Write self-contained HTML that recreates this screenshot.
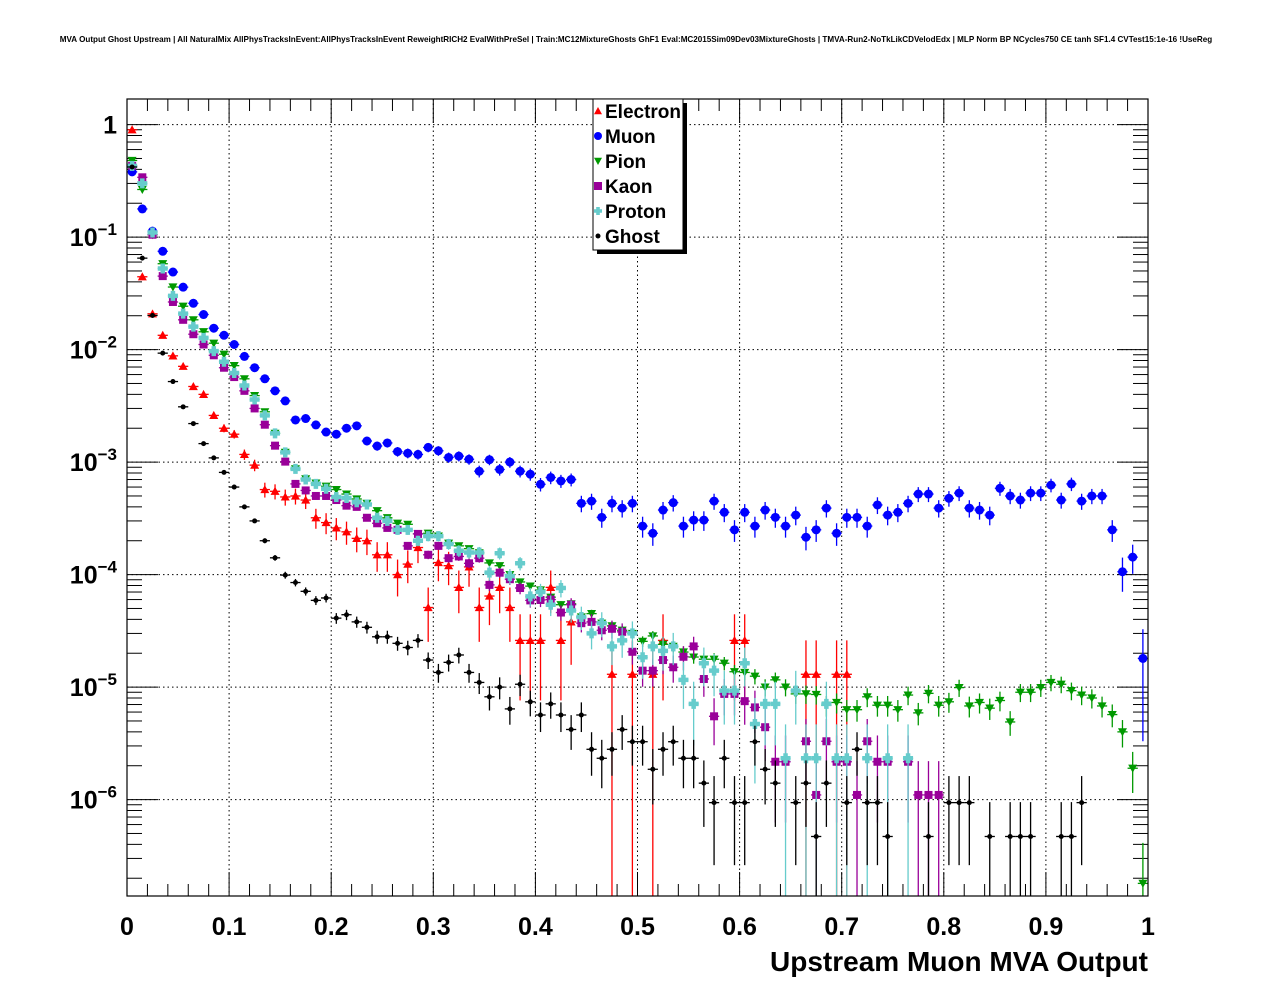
<!DOCTYPE html>
<html><head><meta charset="utf-8"><style>
html,body{margin:0;padding:0;background:#fff;}
svg{display:block;font-family:"Liberation Sans",Arial,sans-serif;}
</style></head><body>
<svg id="chart" width="1276" height="996" viewBox="0 0 1276 996" xmlns="http://www.w3.org/2000/svg">
<rect x="0" y="0" width="1276" height="996" fill="#fff"/>
<text x="636" y="42" font-size="8.1" font-weight="bold" text-anchor="middle">MVA Output Ghost Upstream | All NaturalMix AllPhysTracksInEvent:AllPhysTracksInEvent ReweightRICH2 EvalWithPreSel | Train:MC12MixtureGhosts GhF1 Eval:MC2015Sim09Dev03MixtureGhosts | TMVA-Run2-NoTkLikCDVelodEdx | MLP Norm BP NCycles750 CE tanh SF1.4 CVTest15:1e-16 !UseReg</text>
<g id="grid"></g>
<g id="axes"></g>
<defs><clipPath id="clip"><rect x="127" y="99" width="1021" height="797"/></clipPath></defs>
<g id="series" clip-path="url(#clip)"></g>
<rect x="127" y="99" width="1021" height="797" fill="none" stroke="#000" stroke-width="1.2"/>
<g id="legend"></g>
<text x="1148" y="971" font-size="28" font-weight="bold" text-anchor="end">Upstream Muon MVA Output</text>
</svg>
<script>
const categories = ["Electron","Muon","Pion","Kaon","Proton","Ghost"];
const xTickLabels = ["0","0.1","0.2","0.3","0.4","0.5","0.6","0.7","0.8","0.9","1"];
const yTickExponents = [0,-1,-2,-3,-4,-5,-6];
const N = null;
const electron = [0.9,0.0444,0.0208,0.0134,0.0088,0.0071,0.0047,0.004,0.0026,0.002,
0.00177,0.00117,0.00094,0.00057,0.00055,0.00049,0.0005,0.00046,0.00032,0.00029,
0.00026,0.00024,0.00021,0.0002,0.00015,0.00015,1.0e-4,1.24e-4,1.74e-4,5.1e-5,
1.28e-4,1.2e-4,7.7e-5,1.17e-4,5.1e-5,6.45e-5,7.7e-5,5.1e-5,2.6e-5,2.6e-5,
2.6e-5,7.7e-5,2.6e-5,3.8e-5,N,N,N,1.3e-5,N,1.3e-5,
N,1.3e-5,2.6e-5,N,N,N,N,N,N,2.6e-5,
2.6e-5,N,N,N,N,N,1.3e-5,1.3e-5,N,1.3e-5,
1.3e-5,N,N,N,N,N,N,N,N,N,
N,N,N,N,N,N,N,N,N,N,
N,N,N,N,N,N,N,N,N,N];
const muon = [0.38,0.178,0.113,0.0748,0.0489,0.0359,0.0258,0.0205,0.0155,0.0134,
0.0111,0.0087,0.0069,0.0055,0.0043,0.0035,0.00237,0.00244,0.00214,0.00185,
0.00177,0.002,0.0021,0.00154,0.00139,0.00148,0.00124,0.0012,0.00117,0.00135,
0.00126,0.0011,0.00113,0.00106,0.00083,0.00105,0.00086,0.001,0.00083,0.00078,
0.000635,0.00073,0.00068,0.0007,0.00043,0.00045,0.000323,0.00043,0.00039,0.00043,
0.00027,0.000233,0.000375,0.000436,0.00027,0.000305,0.000305,0.00045,0.000358,0.00025,
0.000358,0.00027,0.000375,0.000323,0.00027,0.000338,0.000215,0.00025,0.00039,0.000233,
0.000323,0.000323,0.00027,0.000416,0.000338,0.000358,0.00043,0.00052,0.00052,0.00039,
0.000477,0.00053,0.00039,0.000375,0.000338,0.000585,0.0005,0.00046,0.00053,0.00053,
0.000625,0.00046,0.00064,0.00045,0.0005,0.0005,0.00025,0.000106,0.000143,1.8e-5];
const pion = [0.48,0.265,0.105,0.058,0.036,0.0243,0.0184,0.0144,0.0114,0.0091,
0.0072,0.0055,0.0039,0.0028,0.0018,0.00122,0.00087,0.00071,0.00065,0.00061,
0.00057,0.00052,0.00047,0.00043,0.00037,0.00032,0.000286,0.00028,0.00023,0.000233,
0.00022,0.00019,0.00018,0.00017,0.000156,0.000127,0.00012,0.0001,8.6e-5,7.9e-5,
7.3e-5,6.3e-5,5.4e-5,5.5e-5,4.2e-5,4.5e-5,3.7e-5,3.5e-5,3.2e-5,3.0e-5,
2.55e-5,2.85e-5,2.4e-5,2.3e-5,2.05e-5,1.85e-5,1.77e-5,1.77e-5,1.63e-5,1.37e-5,
1.35e-5,1.25e-5,1.0e-5,1.16e-5,1.0e-5,8.7e-6,8.7e-6,8.6e-6,6.9e-6,7.3e-6,
6.3e-6,6.3e-6,8.2e-6,6.9e-6,6.9e-6,6.3e-6,8.5e-6,5.9e-6,8.8e-6,6.9e-6,
7.4e-6,9.9e-6,6.8e-6,7.3e-6,6.5e-6,7.6e-6,4.9e-6,9.0e-6,9.0e-6,9.9e-6,
1.1e-5,1.06e-5,9.3e-6,8.5e-6,8.0e-6,6.8e-6,5.7e-6,4.0e-6,1.9e-6,1.8e-7];
const kaon = [0.43,0.34,0.105,0.045,0.0265,0.0184,0.0137,0.0111,0.0089,0.0069,
0.0057,0.0043,0.003,0.00215,0.0014,0.00101,0.00064,0.00056,0.0005,0.0005,
0.00046,0.00041,0.0004,0.00032,0.000286,0.00026,0.00025,0.00018,0.00023,0.00015,
0.00018,0.00014,0.000145,0.000126,0.00014,8.1e-5,0.000104,9.1e-5,7.6e-5,5.9e-5,
5.95e-5,6.0e-5,4.6e-5,5.4e-5,3.7e-5,3.8e-5,3.2e-5,3.3e-5,3.1e-5,2.06e-5,
1.4e-5,1.4e-5,1.74e-5,1.5e-5,1.86e-5,2.3e-5,1.18e-5,5.5e-6,8.7e-6,8.7e-6,
7.5e-6,6.6e-6,4.4e-6,2.17e-6,2.17e-6,N,3.3e-6,1.1e-6,3.3e-6,2.17e-6,
2.17e-6,1.1e-6,3.3e-6,2.17e-6,2.17e-6,N,2.17e-6,1.1e-6,1.1e-6,1.1e-6,
N,N,N,N,N,N,N,N,N,N,
N,N,N,N,N,N,N,N,N,N];
const proton = [0.43,0.30,0.11,0.0526,0.030,0.0209,0.016,0.0127,0.0097,0.0078,
0.0062,0.0048,0.0036,0.0026,0.0018,0.00122,0.00087,0.0007,0.00064,0.00058,
0.00049,0.00048,0.00044,0.00042,0.00032,0.0003,0.00025,0.00025,0.0002,0.00022,
0.00022,0.000187,0.000163,0.000157,0.000157,0.000104,0.000155,9.7e-5,0.000126,6.4e-5,
7.0e-5,5.4e-5,7.6e-5,4.8e-5,4.2e-5,3.0e-5,3.7e-5,2.3e-5,2.6e-5,3.0e-5,
1.84e-5,2.3e-5,2.1e-5,2.3e-5,1.16e-5,7.1e-6,1.63e-5,1.4e-5,9.3e-6,9.3e-6,
1.63e-5,4.7e-6,7.1e-6,7.1e-6,2.33e-6,9.3e-6,2.33e-6,2.33e-6,7.1e-6,2.33e-6,
2.33e-6,N,2.33e-6,N,2.33e-6,N,2.33e-6,N,N,N,
N,N,N,N,N,N,N,N,N,N,
N,N,N,N,N,N,N,N,N,N];
const ghost = [0.42,0.065,0.0201,0.0093,0.0052,0.0031,0.0022,0.00146,0.00109,0.00081,
0.0006,0.0004,0.0003,0.0002,0.000141,9.9e-5,8.5e-5,7.1e-5,5.9e-5,6.2e-5,
4.1e-5,4.4e-5,3.8e-5,3.4e-5,2.8e-5,2.8e-5,2.45e-5,2.25e-5,2.6e-5,1.74e-5,
1.35e-5,1.66e-5,1.93e-5,1.35e-5,1.1e-5,8.2e-6,1.0e-5,6.4e-6,1.06e-5,7.4e-6,
5.65e-6,7.1e-6,5.65e-6,4.2e-6,5.65e-6,2.8e-6,2.33e-6,2.8e-6,4.2e-6,3.27e-6,
3.27e-6,1.86e-6,2.8e-6,3.27e-6,2.33e-6,2.33e-6,1.4e-6,9.4e-7,2.33e-6,9.4e-7,
9.4e-7,3.27e-6,1.86e-6,1.4e-6,N,9.4e-7,1.4e-6,4.7e-7,1.4e-6,N,
9.4e-7,2.8e-6,9.4e-7,9.4e-7,4.7e-7,N,N,N,4.7e-7,N,
9.4e-7,9.4e-7,9.4e-7,N,4.7e-7,N,4.7e-7,4.7e-7,4.7e-7,N,
N,4.7e-7,4.7e-7,9.4e-7,N,N,N,N,N,N];

const NS="http://www.w3.org/2000/svg";
const X0=127,X1=1148,YTOP=99,YBOT=896,Y1=124.6,DEC=112.5;
function xs(v){return X0+(X1-X0)*v;}
function ys(v){return Y1-DEC*Math.log10(v);}
function mk(tag,attrs,parent){const e=document.createElementNS(NS,tag);for(const k in attrs)e.setAttribute(k,attrs[k]);parent.appendChild(e);return e;}

const grid=document.getElementById('grid'), axes=document.getElementById('axes');
xTickLabels.forEach((lab,i)=>{
  const v=i/10, x=xs(v);
  if(i>0&&i<10){
    const gl=mk('line',{x1:x,y1:YTOP,x2:x,y2:YBOT,stroke:'#000','stroke-width':1,'stroke-dasharray':'1.5,3'},grid);
    
    
  }
  const t=mk('text',{x:x,y:935,'font-size':25,'font-weight':'bold','text-anchor':'middle'},axes);
  t.textContent=lab;
  
  
});
for(let i=0;i<=50;i++){
  const x=xs(i/50), len=(i%5===0)?24:12;
  mk('line',{x1:x,y1:YBOT,x2:x,y2:YBOT-len,stroke:'#000','stroke-width':1},axes);
  mk('line',{x1:x,y1:YTOP,x2:x,y2:YTOP+len,stroke:'#000','stroke-width':1},axes);
}
yTickExponents.forEach(e=>{
  const y=ys(Math.pow(10,e));
  const gl=mk('line',{x1:X0,y1:y,x2:X1,y2:y,stroke:'#000','stroke-width':1,'stroke-dasharray':'1.5,3'},grid);
  
  
  const t=mk('text',{x:117,y:y+9,'font-size':25,'font-weight':'bold','text-anchor':'end'},axes);
  
  
  if(e===0){t.textContent='1';}
  else{
    const a=mk('tspan',{},t);a.textContent='10';
    const b=mk('tspan',{dy:-11,'font-size':17},t);b.textContent='\u2212'+(-e);
  }
});
for(let e=-7;e<=0;e++){
  for(let m=1;m<=9;m++){
    const v=m*Math.pow(10,e), y=ys(v);
    if(y<YTOP||y>YBOT)continue;
    const len=(m===1)?31:15;
    mk('line',{x1:X0,y1:y,x2:X0+len,y2:y,stroke:'#000','stroke-width':1},axes);
    mk('line',{x1:X1,y1:y,x2:X1-len,y2:y,stroke:'#000','stroke-width':1},axes);
  }
}

const styles={
  Electron:{c:'#ff0000',m:'tri',u:1.3e-5,s:4.5},
  Muon:{c:'#0000ff',m:'circ',u:1.2e-5,s:4.5},
  Pion:{c:'#009900',m:'tridown',u:3e-7,s:4.5},
  Kaon:{c:'#990099',m:'sq',u:1.1e-6,s:4},
  Proton:{c:'#66cccc',m:'cross',u:2.33e-6,s:5},
  Ghost:{c:'#000000',m:'dot',u:4.9e-7,s:2.5}
};
function marker(g,type,x,y,c,s){
  if(type==='tri')return mk('path',{d:`M${x},${y-s}L${x+s},${y+s*0.8}L${x-s},${y+s*0.8}Z`,fill:c},g);
  if(type==='tridown')return mk('path',{d:`M${x},${y+s}L${x+s},${y-s*0.8}L${x-s},${y-s*0.8}Z`,fill:c},g);
  if(type==='sq')return mk('rect',{x:x-s,y:y-s,width:2*s,height:2*s,fill:c},g);
  if(type==='cross'){const w=s*0.45;return mk('path',{d:`M${x-w},${y-s}H${x+w}V${y-w}H${x+s}V${y+w}H${x+w}V${y+s}H${x-w}V${y+w}H${x-s}V${y-w}H${x-w}Z`,fill:c},g);}
  return mk('circle',{cx:x,cy:y,r:s,fill:c},g);
}
const seriesData={Electron:electron,Muon:muon,Pion:pion,Kaon:kaon,Proton:proton,Ghost:ghost};
const layer=document.getElementById('series');
categories.forEach(name=>{
  const st=styles[name], vals=seriesData[name];
  const g=mk('g',{},layer);
  
  
  vals.forEach((v,i)=>{
    if(v===null||v<=0)return;
    const xc=(i+0.5)/100, x=xs(xc), y=ys(v);
    const err=Math.sqrt(v*st.u);
    const lo=v-err>0?ys(v-err):YBOT+10, hi=ys(v+err);
    mk('line',{x1:x,y1:lo,x2:x,y2:hi,stroke:st.c,'stroke-width':1.3},g);
    mk('line',{x1:xs(xc-0.005),y1:y,x2:xs(xc+0.005),y2:y,stroke:st.c,'stroke-width':1.3},g);
    const p=marker(g,st.m,x,y,st.c,st.s);
    
    
  });
});

const lg=document.getElementById('legend');
mk('rect',{x:597,y:103,width:90,height:151,fill:'#000'},lg);
mk('rect',{x:593,y:99,width:90,height:151,fill:'#fff',stroke:'#000','stroke-width':1},lg);
categories.forEach((name,i)=>{
  const st=styles[name], y=111+i*25;
  const m=marker(lg,st.m,598,y,st.c,Math.min(st.s,4));
  
  
  const t=mk('text',{x:605,y:y+7,'font-size':19,'font-weight':'bold'},lg);
  t.textContent=name;
  
  
});
</script>
</body></html>
